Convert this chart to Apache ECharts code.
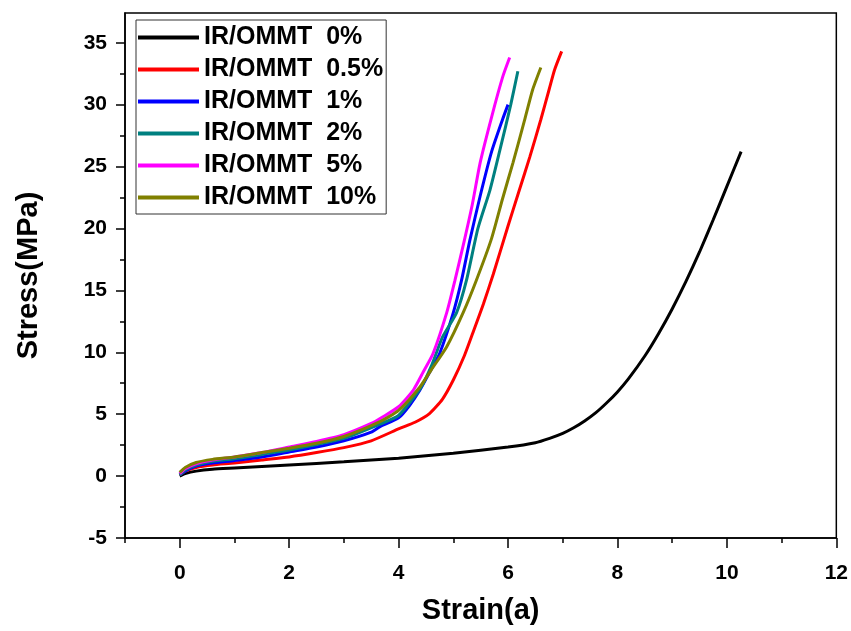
<!DOCTYPE html>
<html>
<head>
<meta charset="utf-8">
<script src="https://cdn.jsdelivr.net/npm/echarts@6/dist/echarts.min.js"></script>
<style>
html,body{margin:0;padding:0;background:#fff;}
#chart{width:851px;height:631px;}
</style>
</head>
<body>
<div id="chart"></div>
<script>
// ---- data (strain, stress) ----
const seriesNames = ['IR/OMMT  0%', 'IR/OMMT  0.5%', 'IR/OMMT  1%', 'IR/OMMT  2%', 'IR/OMMT  5%', 'IR/OMMT  10%'];
const seriesColors = ['#000000', '#ff0000', '#0000ff', '#008080', '#ff00ff', '#808000'];

const ir0 = [[0,0],[0.1,0.2],[0.3,0.4],[0.6,0.55],[1,0.65],[2,0.9],[3,1.15],[4,1.45],[5,1.85],[6,2.35],[6.5,2.7],[6.76,3.05],[7.0,3.45],[7.2,3.9],[7.4,4.45],[7.6,5.1],[7.8,5.9],[8.0,6.8],[8.2,7.85],[8.5,9.7],[8.75,11.5],[9.0,13.5],[9.25,15.7],[9.5,18.1],[9.75,20.7],[10.0,23.4],[10.26,26.2]];
const ir05 = [[0,0.1],[0.1,0.4],[0.3,0.7],[0.6,0.9],[1,1.05],[1.5,1.3],[2,1.55],[2.5,1.9],[3,2.3],[3.5,2.85],[4.02,3.85],[4.3,4.35],[4.57,5.07],[4.8,6.2],[5.0,7.76],[5.2,9.7],[5.36,11.6],[5.55,13.9],[5.73,16.3],[6.0,20.2],[6.2,23.0],[6.4,25.8],[6.6,28.8],[6.75,31.2],[6.85,32.8],[6.98,34.3]];
const ir1 = [[0,0.1],[0.1,0.4],[0.3,0.8],[0.6,1.05],[1,1.25],[1.5,1.55],[2,1.95],[2.5,2.35],[3,2.85],[3.5,3.55],[3.66,4.0],[4.0,4.7],[4.2,5.7],[4.39,6.95],[4.57,8.4],[4.75,9.9],[5.0,13.2],[5.15,15.8],[5.3,19.0],[5.49,22.6],[5.7,26.2],[5.9,28.8],[6.0,30.0]];
const ir2 = [[0,0.1],[0.1,0.5],[0.3,0.9],[0.6,1.2],[1,1.4],[1.5,1.75],[2,2.1],[2.5,2.55],[3,3.05],[3.66,4.2],[4.0,4.9],[4.4,7.1],[4.6,8.9],[4.8,11.2],[5.06,13.2],[5.24,15.8],[5.45,20.0],[5.67,23.1],[5.85,26.3],[6.05,30.0],[6.18,32.7]];
const ir5 = [[0,0.2],[0.1,0.6],[0.3,1.0],[0.6,1.3],[1,1.55],[1.5,1.9],[2,2.35],[2.5,2.8],[3,3.35],[3.5,4.25],[3.7,4.75],[4.0,5.6],[4.27,6.95],[4.45,8.4],[4.63,9.9],[4.88,13.2],[5.03,15.8],[5.2,19.0],[5.35,22.0],[5.49,25.3],[5.7,29.0],[5.9,32.2],[6.03,33.8]];
const ir10 = [[0,0.3],[0.1,0.7],[0.3,1.1],[0.6,1.35],[1,1.55],[1.5,1.9],[2,2.25],[2.5,2.65],[3,3.2],[3.66,4.4],[4.0,5.3],[4.39,7.2],[4.6,8.6],[4.88,10.45],[5.18,13.2],[5.42,15.8],[5.7,19.2],[5.9,22.4],[6.09,25.3],[6.3,28.7],[6.45,31.2],[6.6,33.0]];
const allData = [ir0, ir05, ir1, ir2, ir5, ir10];

// ---- ticks ----
const xMajorTicks = [0, 2, 4, 6, 8, 10, 12];
const xMinorTicks = [-1, 1, 3, 5, 7, 9, 11];
const yMajorTicks = [-5, 0, 5, 10, 15, 20, 25, 30, 35];
const yMinorTicks = [-2.5, 2.5, 7.5, 12.5, 17.5, 22.5, 27.5, 32.5];

const FONT = 'Liberation Sans, Arial, sans-serif';
const chart = echarts.init(document.getElementById('chart'), null, {renderer: 'canvas'});

const gridPos = {left: 125, right: 14, top: 13, bottom: 93};
const xBase = {type: 'value', min: -1, max: 12, gridIndex: 0};
const yBase = {type: 'value', min: -5, max: 37.4, gridIndex: 0};

chart.setOption({
  backgroundColor: '#ffffff',
  animation: false,
  grid: Object.assign({show: true, borderColor: '#000', borderWidth: 1.5, backgroundColor: 'transparent'}, gridPos),
  legend: {
    orient: 'vertical',
    left: 136, top: 20,
    data: seriesNames,
    icon: 'rect',
    itemWidth: 61, itemHeight: 4,
    itemGap: 7,
    borderColor: '#333', borderWidth: 1,
    padding: [5, 3, 4, 2],
    textStyle: {fontFamily: FONT, fontWeight: 'bold', fontSize: 25, color: '#000', lineHeight: 25}
  },
  xAxis: [
    Object.assign({}, xBase, {
      position: 'bottom',
      name: 'Strain(a)', nameLocation: 'middle', nameGap: 58,
      nameTextStyle: {fontFamily: FONT, fontWeight: 'bold', fontSize: 29, color: '#000'},
      axisLine: {show: true, onZero: false, lineStyle: {color: '#000', width: 1.5}},
      axisTick: {show: true, inside: false, length: 10, customValues: xMajorTicks, lineStyle: {color: '#000', width: 1.5}},
      axisLabel: {show: true, customValues: xMajorTicks, margin: 25, fontFamily: FONT, fontWeight: 'bold', fontSize: 21, color: '#000'},
      splitLine: {show: false}
    }),
    Object.assign({}, xBase, {
      position: 'bottom',
      axisLine: {show: false, onZero: false},
      axisTick: {show: true, inside: false, length: 5, customValues: xMinorTicks, lineStyle: {color: '#000', width: 1.5}},
      axisLabel: {show: false},
      splitLine: {show: false}
    })
  ],
  yAxis: [
    Object.assign({}, yBase, {
      position: 'left',
      name: 'Stress(MPa)', nameLocation: 'middle', nameGap: 82, nameRotate: 90,
      nameTextStyle: {fontFamily: FONT, fontWeight: 'bold', fontSize: 29, color: '#000'},
      axisLine: {show: true, onZero: false, lineStyle: {color: '#000', width: 1.5}},
      axisTick: {show: true, inside: false, length: 9, customValues: yMajorTicks, lineStyle: {color: '#000', width: 1.5}},
      axisLabel: {show: true, customValues: yMajorTicks, margin: 18, fontFamily: FONT, fontWeight: 'bold', fontSize: 21, color: '#000'},
      splitLine: {show: false}
    }),
    Object.assign({}, yBase, {
      position: 'left',
      axisLine: {show: false, onZero: false},
      axisTick: {show: true, inside: false, length: 5, customValues: yMinorTicks, lineStyle: {color: '#000', width: 1.5}},
      axisLabel: {show: false},
      splitLine: {show: false}
    })
  ],
  series: allData.map((d, i) => ({
    name: seriesNames[i],
    type: 'line',
    xAxisIndex: 0, yAxisIndex: 0,
    data: d,
    smooth: 0.2,
    showSymbol: false,
    symbol: 'none',
    color: seriesColors[i],
    lineStyle: {color: seriesColors[i], width: 3},
    z: 2 + i
  }))
});
</script>
</body>
</html>
